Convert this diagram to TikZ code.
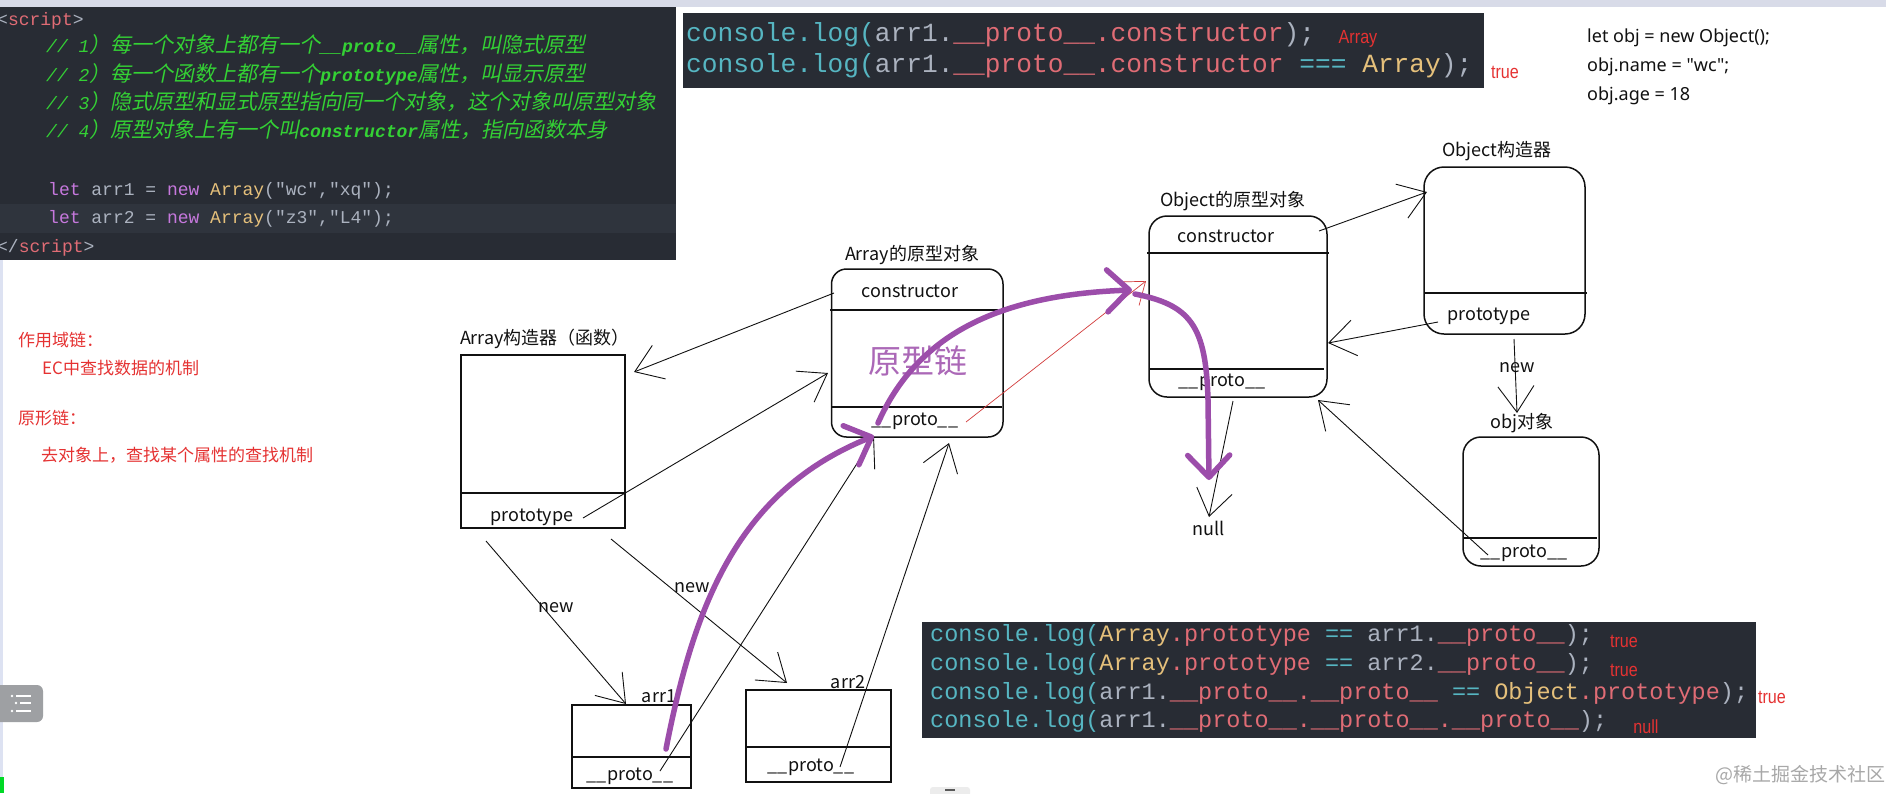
\documentclass[tikz,border=0pt]{standalone}
\usepackage{fontspec}
\setmainfont{Liberation Sans}
\setmonofont{Liberation Mono}
\newfontfamily\zhfont{Noto Sans CJK SC}
\newfontfamily\zhitfont{Noto Sans CJK SC}[FakeSlant=0.2]
\newfontfamily\latsans{Noto Sans}
\newfontfamily\narrowfont{Liberation Sans}[FakeStretch=0.85]
\usetikzlibrary{arrows.meta}
\definecolor{cbg}{HTML}{282C34}
\definecolor{cbgtwo}{HTML}{2F343D}
\definecolor{cgreen}{HTML}{34D134}
\definecolor{cred}{HTML}{E06C75}
\definecolor{cpurp}{HTML}{C678DD}
\definecolor{cyel}{HTML}{E5C07B}
\definecolor{ccyan}{HTML}{56B6C2}
\definecolor{cgray}{HTML}{ABB2BF}
\definecolor{lblred}{RGB}{229,50,50}
\definecolor{linered}{RGB}{210,60,60}
\definecolor{chain}{HTML}{9C4DAA}
\definecolor{topband}{HTML}{D8DBE8}
\definecolor{leftstrip}{HTML}{DDE2F2}
\definecolor{btngray}{HTML}{9EA0A3}
\definecolor{wmgray}{HTML}{A8A8A8}
\definecolor{ink}{HTML}{111111}
\newcommand\colseg[2]{{\color{#1}#2}}
\newcommand\zhi[1]{{\zhitfont\fontsize{21}{21}\selectfont #1}}
\tikzset{
  boxs/.style={draw=ink, line width=1.5pt, inner sep=0pt},
  divl/.style={draw=ink, line width=1.4pt},
  lbl/.style={font=\zhfont\fontsize{18}{18}\selectfont, inner sep=0pt, text=ink},
  conn/.style={draw=ink, line width=0.9pt, -{Straight Barb[length=26pt,width=36pt]}},
  redconn/.style={draw=linered, line width=0.7pt, -{Straight Barb[length=20pt,width=30pt]}},
  pconn/.style={draw=chain, line width=5.5pt, line cap=round, -{Straight Barb[length=22pt,width=42pt,round]}},
  codeone/.style={anchor=west, inner sep=0pt, font=\ttfamily\fontsize{18}{18}\selectfont, text=cgray, text height=13pt, text depth=4pt},
  codetwo/.style={anchor=west, inner sep=0pt, font=\ttfamily\fontsize{26.2}{26}\selectfont, text=cgray, text height=19pt, text depth=6pt},
  codethree/.style={anchor=west, inner sep=0pt, font=\ttfamily\fontsize{23.5}{24}\selectfont, text=cgray, text height=17pt, text depth=5pt},
  redlbl/.style={inner sep=0pt, font=\narrowfont\fontsize{19}{19}\selectfont, text=lblred},
  note/.style={anchor=west, inner sep=0pt, font=\zhfont\fontsize{17}{17}\selectfont, text=lblred},
  objtxt/.style={anchor=west, inner sep=0pt, font=\latsans\fontsize{18}{18}\selectfont, text=ink},
}
\begin{document}
\begin{tikzpicture}[x=1pt,y=-1pt]
\useasboundingbox (0,0) rectangle (1886,793);
\fill[white] (0,0) rectangle (1886,793);
% page decorations
\fill[topband] (0,0) rectangle (1886,7);
\fill[leftstrip] (0,260) rectangle (3,793);
\fill[btngray, rounded corners=6pt] (-8,685) rectangle (43,722);
\foreach \yy/\dx in {696/0,703/4,711/0}{
  \fill[white] (12+\dx,\yy) circle (1.4);
  \draw[white, line width=2pt] (16+\dx,\yy) -- (31,\yy);
}
\fill[green!70!teal] (0,777) rectangle (4,793);
\fill[gray!15, rounded corners=3pt] (930,787) rectangle (970,800);
\draw[gray!70!black, line width=2pt] (945,790) -- (955,790);
\node[inner sep=0pt, font=\zhfont\fontsize{19}{19}\selectfont, text=wmgray] (wm) at (1800,775) {@稀土掘金技术社区};

% code panel 1
\fill[cbg] (0,7) rectangle (676,260);
\fill[cbgtwo] (0,204) rectangle (676,233);
\node[codeone] (s1) at (-3,21) {<\colseg{cred}{script}>};
\node[codeone, text=cgreen] (k1) at (46,48) {{\itshape // 1}\zhi{）每一个对象上都有一个}{\bfseries\itshape \_\_proto\_\_}\zhi{属性，叫隐式原型}};
\node[codeone, text=cgreen] (k2) at (46,77) {{\itshape // 2}\zhi{）每一个函数上都有一个}{\bfseries\itshape prototype}\zhi{属性，叫显示原型}};
\node[codeone, text=cgreen] (k3) at (46,105) {{\itshape // 3}\zhi{）隐式原型和显式原型指向同一个对象，这个对象叫原型对象}};
\node[codeone, text=cgreen] (k4) at (46,133) {{\itshape // 4}\zhi{）原型对象上有一个叫}{\bfseries\itshape constructor}\zhi{属性，指向函数本身}};
\node[codeone] (l1) at (48,191) {\colseg{cpurp}{let} arr1 = \colseg{cpurp}{new} \colseg{cyel}{Array}("wc","xq");};
\node[codeone] (l2) at (48,219) {\colseg{cpurp}{let} arr2 = \colseg{cpurp}{new} \colseg{cyel}{Array}("z3","L4");};
\node[codeone] (s2) at (-3,248) {</\colseg{cred}{script}>};

% code panel 2
\fill[cbg] (683,13) rectangle (1484,88);
\node[codetwo] (q1) at (686,35) {\colseg{ccyan}{console.log(}arr1.\colseg{cred}{\_\_proto\_\_.constructor});};
\node[codetwo] (q2) at (686,66) {\colseg{ccyan}{console.log(}arr1.\colseg{cred}{\_\_proto\_\_.constructor} \colseg{ccyan}{===} \colseg{cyel}{Array});};
\node[redlbl] (r1) at (1358,39) {Array};
\node[redlbl] (r2) at (1505,72) {true};

% code panel 3
\fill[cbg] (922,622) rectangle (1756,738);
\node[codethree] (b1) at (930,635) {\colseg{ccyan}{console.log(}\colseg{cyel}{Array}\colseg{cred}{.prototype} \colseg{ccyan}{==} arr1.\colseg{cred}{\_\_proto\_\_});};
\node[codethree] (b2) at (930,664) {\colseg{ccyan}{console.log(}\colseg{cyel}{Array}\colseg{cred}{.prototype} \colseg{ccyan}{==} arr2.\colseg{cred}{\_\_proto\_\_});};
\node[codethree] (b3) at (930,693) {\colseg{ccyan}{console.log(}arr1.\colseg{cred}{\_\_proto\_\_.\_\_proto\_\_} \colseg{ccyan}{==} \colseg{cyel}{Object}\colseg{cred}{.prototype});};
\node[codethree] (b4) at (930,721) {\colseg{ccyan}{console.log(}arr1.\colseg{cred}{\_\_proto\_\_.\_\_proto\_\_.\_\_proto\_\_});};
\node[redlbl] (r3) at (1624,641) {true};
\node[redlbl] (r4) at (1624,670) {true};
\node[redlbl] (r5) at (1772,697) {true};
\node[redlbl] (r6) at (1646,727) {null};

% top-right text
\node[objtxt] (t1) at (1587,38) {let obj = new Object();};
\node[objtxt] (t2) at (1587,67) {obj.name = "wc";};
\node[objtxt] (t3) at (1587,96) {obj.age = 18};

% left notes
\node[note] (n1) at (18,340) {作用域链：};
\node[note] (n2) at (42,368) {EC中查找数据的机制};
\node[note] (n3) at (18,418) {原形链：};
\node[note] (n4) at (41,455) {去对象上，查找某个属性的查找机制};

% boxes
\node[boxs, minimum width=164, minimum height=173] (ac) at (543,441.5) {};
\draw[divl] (461,493) -- (625,493);
\node[lbl] (act) at (545,339) {Array构造器（函数）};
\node[lbl] (acp) at (532,517) {prototype};

\node[boxs, rounded corners=15pt, minimum width=171.5, minimum height=168] (ap) at (917.25,353) {};
\draw[divl] (830,310) -- (998,310);
\draw[divl] (831,407) -- (1002,407);
\node[lbl] (apt) at (912,255) {Array的原型对象};
\node[lbl] (apc) at (910,291) {constructor};
\node[lbl] (app) at (915,421) {\_\_proto\_\_};
\node[inner sep=0pt, font=\zhfont\fontsize{33}{33}\selectfont, text=chain!85] (yxl) at (918,361) {原型链};

\node[boxs, rounded corners=18pt, minimum width=178, minimum height=181] (op) at (1238,306.5) {};
\draw[divl] (1147,253) -- (1329,253);
\draw[divl] (1149,369) -- (1324,369);
\node[lbl] (opt) at (1233,201) {Object的原型对象};
\node[lbl] (opc) at (1226,236) {constructor};
\node[lbl] (opp) at (1222,382) {\_\_proto\_\_};

\node[boxs, rounded corners=20pt, minimum width=161, minimum height=167] (oc) at (1504.5,250.5) {};
\draw[divl] (1424,293) -- (1587,293);
\node[lbl] (oct) at (1497,151) {Object构造器};
\node[lbl] (ocp) at (1489,316) {prototype};

\node[boxs, rounded corners=18pt, minimum width=136, minimum height=129] (ob) at (1531,501.5) {};
\draw[divl] (1463,538) -- (1597,538);
\node[lbl] (obt) at (1522,423) {obj对象};
\node[lbl] (obp) at (1524,553) {\_\_proto\_\_};

\node[boxs, minimum width=119, minimum height=83] (a1) at (631.5,746.5) {};
\draw[divl] (572,757) -- (692,757);
\node[lbl] (a1t) at (659,696) {arr1};
\node[lbl] (a1p) at (630,776) {\_\_proto\_\_};

\node[boxs, minimum width=145, minimum height=92] (a2) at (818.5,736) {};
\draw[divl] (746,747) -- (891,747);
\node[lbl] (a2t) at (848,682) {arr2};
\node[lbl] (a2p) at (811,767) {\_\_proto\_\_};

\node[lbl] (nul) at (1209,528) {null};

% connector end points
\coordinate (c1s) at (834,293);  \coordinate (c1e) at (634,372);
\coordinate (c2s) at (583,518);  \coordinate (c2e) at (828,373);
\coordinate (c3s) at (486,541);  \coordinate (c3e) at (626,704);
\coordinate (c4s) at (611,539);  \coordinate (c4e) at (787,683);
\coordinate (c5s) at (660,771);  \coordinate (c5e) at (874,437);
\coordinate (c6s) at (840,767);  \coordinate (c6e) at (949,443);
\coordinate (c7s) at (1319,231); \coordinate (c7e) at (1427,192);
\coordinate (c8s) at (1438,322); \coordinate (c8e) at (1328,343);
\coordinate (c9s) at (1514,339); \coordinate (c9e) at (1517,413);
\coordinate (c10s) at (1488,555); \coordinate (c10e) at (1318,400);
\coordinate (c11s) at (1233,401); \coordinate (c11e) at (1209,517);
\coordinate (c12s) at (966,422); \coordinate (c12e) at (1146,281);
\coordinate (p1s) at (666,749); \coordinate (p1e) at (874,436);
\coordinate (p2s) at (878,423); \coordinate (p2e) at (1132,290);
\coordinate (p3s) at (1135,294); \coordinate (p3e) at (1209,480);

% thin connectors
\draw[conn] (c1s) -- (c1e);
\draw[conn] (c2s) -- (c2e);
\draw[conn] (c3s) -- (c3e);
\draw[conn] (c4s) -- (c4e);
\draw[conn] (c5s) -- (c5e);
\draw[conn] (c6s) -- (c6e);
\draw[conn] (c7s) -- (c7e);
\draw[conn] (c8s) -- (c8e);
\draw[conn] (c9s) -- (c9e);
\draw[conn] (c10s) -- (c10e);
\draw[conn] (c11s) -- (c11e);
\draw[redconn] (c12s) -- (c12e);
\node[lbl] (new1) at (556,608) {new};
\node[lbl] (new2) at (692,588) {new};
\node[lbl] (new3) at (1517,368) {new};

% prototype chain (purple)
\draw[pconn] (p1s) .. controls (695,600) and (740,490) .. (p1e);
\draw[pconn] (p2s) .. controls (915,340) and (990,295) .. (p2e);
\draw[pconn] (p3s) .. controls (1190,305) and (1206,325) .. (1208,400) -- (p3e);
\end{tikzpicture}
\end{document}
